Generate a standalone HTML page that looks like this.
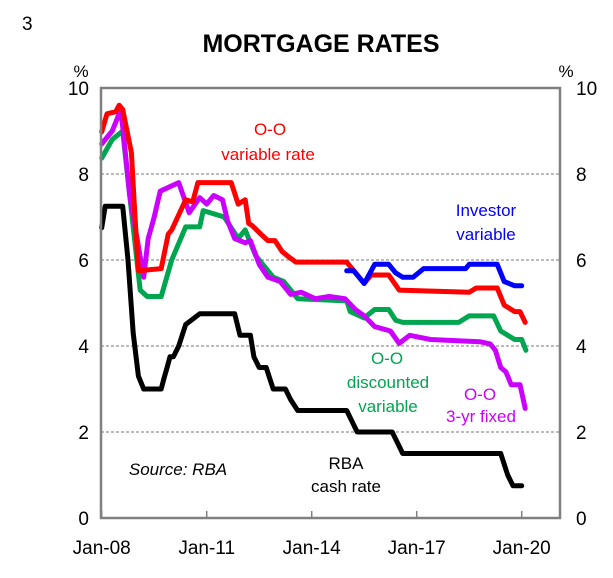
<!DOCTYPE html>
<html><head><meta charset="utf-8"><style>
body{margin:0;background:#fff;width:613px;height:578px;overflow:hidden}
svg{display:block;font-family:"Liberation Sans",Arial,sans-serif}
</style></head><body>
<svg id="chart" width="613" height="578">
<text x="22" y="30" font-size="19">3</text>
<text x="321" y="52" font-size="25" font-weight="bold" text-anchor="middle">MORTGAGE RATES</text>
<text x="81" y="77" font-size="17" text-anchor="middle">%</text>
<text x="566" y="77" font-size="17" text-anchor="middle">%</text>
<g id="grid"></g><g id="ticks"></g><g id="series"></g>
<rect x="101" y="88" width="459" height="430" fill="none" stroke="#808080" stroke-width="2.5"/>
<text x="276" y="135" font-size="17" fill="#ff0000" text-anchor="middle"><tspan x="270" dy="0">O-O</tspan><tspan x="268" dy="25">variable rate</tspan></text>
<text font-size="17" fill="#0000ff" text-anchor="middle"><tspan x="486" y="216">Investor</tspan><tspan x="486" y="240">variable</tspan></text>
<text font-size="17" fill="#00a550" text-anchor="middle"><tspan x="387" y="364">O-O</tspan><tspan x="388" y="388">discounted</tspan><tspan x="388" y="412">variable</tspan></text>
<text font-size="17" fill="#cc00ff" text-anchor="middle"><tspan x="480" y="400">O-O</tspan><tspan x="481" y="422">3-yr fixed</tspan></text>
<text font-size="17" fill="#000" text-anchor="middle"><tspan x="346" y="469">RBA</tspan><tspan x="346" y="492">cash rate</tspan></text>
<text x="178" y="475" font-size="17" font-style="italic" text-anchor="middle">Source: RBA</text>
</svg>
<script>
const yTicks=[0,2,4,6,8,10];
const xTickLabels=["Jan-08","Jan-11","Jan-14","Jan-17","Jan-20"];
const xTickYears=[2008,2011,2014,2017,2020];
const cashT=[2008,2008.1,2008.6,2008.75,2008.9,2009.05,2009.2,2009.7,2009.78,2009.87,2009.95,2010.05,2010.2,2010.4,2010.8,2011.8,2011.95,2012.25,2012.35,2012.5,2012.7,2012.8,2012.9,2013.25,2013.4,2013.6,2015.0,2015.15,2015.3,2016.3,2016.45,2016.6,2019.4,2019.6,2019.75,2020.0];
const cashV=[6.75,7.25,7.25,6.0,4.3,3.3,3.0,3.0,3.25,3.5,3.75,3.75,4.0,4.5,4.75,4.75,4.25,4.25,3.75,3.5,3.5,3.25,3.0,3.0,2.75,2.5,2.5,2.25,2.0,2.0,1.75,1.5,1.5,1.0,0.75,0.75];
const redT=[2008,2008.15,2008.4,2008.5,2008.6,2008.85,2008.95,2009.05,2009.7,2009.9,2010.0,2010.4,2010.6,2010.75,2011.7,2011.9,2012.1,2012.2,2012.3,2012.55,2012.75,2012.95,2013.15,2013.3,2013.55,2015.0,2015.5,2015.7,2016.2,2016.5,2018.5,2018.7,2019.3,2019.5,2019.8,2019.95,2020.1];
const redV=[8.98,9.4,9.45,9.6,9.5,8.5,7.0,5.75,5.8,6.6,6.7,7.4,7.35,7.8,7.8,7.3,7.4,6.85,6.8,6.6,6.45,6.45,6.2,6.1,5.95,5.95,5.46,5.65,5.65,5.3,5.25,5.35,5.35,4.95,4.8,4.8,4.55];
const invT=[2015.0,2015.2,2015.5,2015.8,2016.2,2016.4,2016.6,2016.9,2017.2,2018.4,2018.5,2019.3,2019.5,2019.8,2020.0];
const invV=[5.75,5.75,5.45,5.9,5.9,5.7,5.6,5.6,5.8,5.8,5.9,5.9,5.5,5.4,5.4];
const greenT=[2008,2008.3,2008.6,2008.8,2009.1,2009.3,2009.7,2010.0,2010.4,2010.8,2010.9,2011.5,2011.9,2012.1,2012.4,2012.6,2012.9,2013.2,2013.6,2015.0,2015.1,2015.5,2015.8,2016.2,2016.4,2016.6,2018.2,2018.5,2019.2,2019.4,2019.8,2020.0,2020.12];
const greenV=[8.37,8.8,9.0,7.5,5.3,5.15,5.15,6.0,6.77,6.77,7.15,7.0,6.5,6.7,6.1,5.9,5.6,5.5,5.1,5.05,4.8,4.65,4.85,4.85,4.6,4.55,4.55,4.7,4.7,4.35,4.15,4.15,3.9];
const purpT=[2008,2008.3,2008.55,2008.8,2009.2,2009.33,2009.5,2009.67,2010.2,2010.5,2010.8,2011.0,2011.2,2011.45,2011.6,2011.8,2012.1,2012.25,2012.5,2012.75,2013.1,2013.4,2013.7,2014.1,2014.5,2014.95,2015.25,2015.5,2015.8,2016.25,2016.5,2016.8,2017.1,2017.4,2018.8,2019.1,2019.25,2019.4,2019.55,2019.7,2019.95,2020.1];
const purpV=[8.7,9.0,9.5,7.5,5.6,6.5,7.0,7.6,7.8,7.1,7.45,7.3,7.5,7.4,6.9,6.5,6.4,6.45,5.9,5.6,5.5,5.2,5.25,5.1,5.15,5.1,4.85,4.7,4.45,4.35,4.06,4.25,4.2,4.15,4.1,4.05,3.9,3.5,3.4,3.1,3.1,2.55];

const NS="http://www.w3.org/2000/svg";
const X=t=>101.7+35*(t-2008);
const Y=v=>518-43*v;
function mk(tag,attrs,parent){const e=document.createElementNS(NS,tag);for(const k in attrs)e.setAttribute(k,attrs[k]);parent.appendChild(e);return e;}
const grid=document.getElementById('grid'),ticks=document.getElementById('ticks'),ser=document.getElementById('series');
yTicks.forEach(v=>{
  if(v>0&&v<10){const g=mk('line',{x1:101,x2:560,y1:Y(v),y2:Y(v),stroke:'#777','stroke-width':1,'stroke-dasharray':'3,2'},grid);
  
  }
  const l=mk('text',{x:89,y:Y(v)+7,'font-size':19,'text-anchor':'end'},ticks);l.textContent=v;
  
  
  const r=mk('text',{x:576,y:Y(v)+7,'font-size':19,'text-anchor':'start'},ticks);r.textContent=v;
  
  
});
xTickYears.forEach((yr,i)=>{
  const tk=mk('line',{x1:X(yr),x2:X(yr),y1:518,y2:511,stroke:'#808080','stroke-width':1.5},ticks);
  
  
  const t=mk('text',{x:X(yr),y:554,'font-size':19,'text-anchor':'middle'},ticks);t.textContent=xTickLabels[i];
  
  
});
function line(T,V,color,name){
  const p=mk('polyline',{points:T.map((t,i)=>X(t).toFixed(1)+','+Y(V[i]).toFixed(1)).join(' '),fill:'none',stroke:color,'stroke-width':5,'stroke-linejoin':'round','stroke-linecap':'round'},ser);
  
  
}
line(cashT,cashV,'#000','series-rba-cash-rate');
line(greenT,greenV,'#00a550','series-oo-discounted-variable');
line(purpT,purpV,'#cc00ff','series-oo-3yr-fixed');
line(redT,redV,'#ff0000','series-oo-variable');
line(invT,invV,'#0000ff','series-investor-variable');
</script>
</body></html>
